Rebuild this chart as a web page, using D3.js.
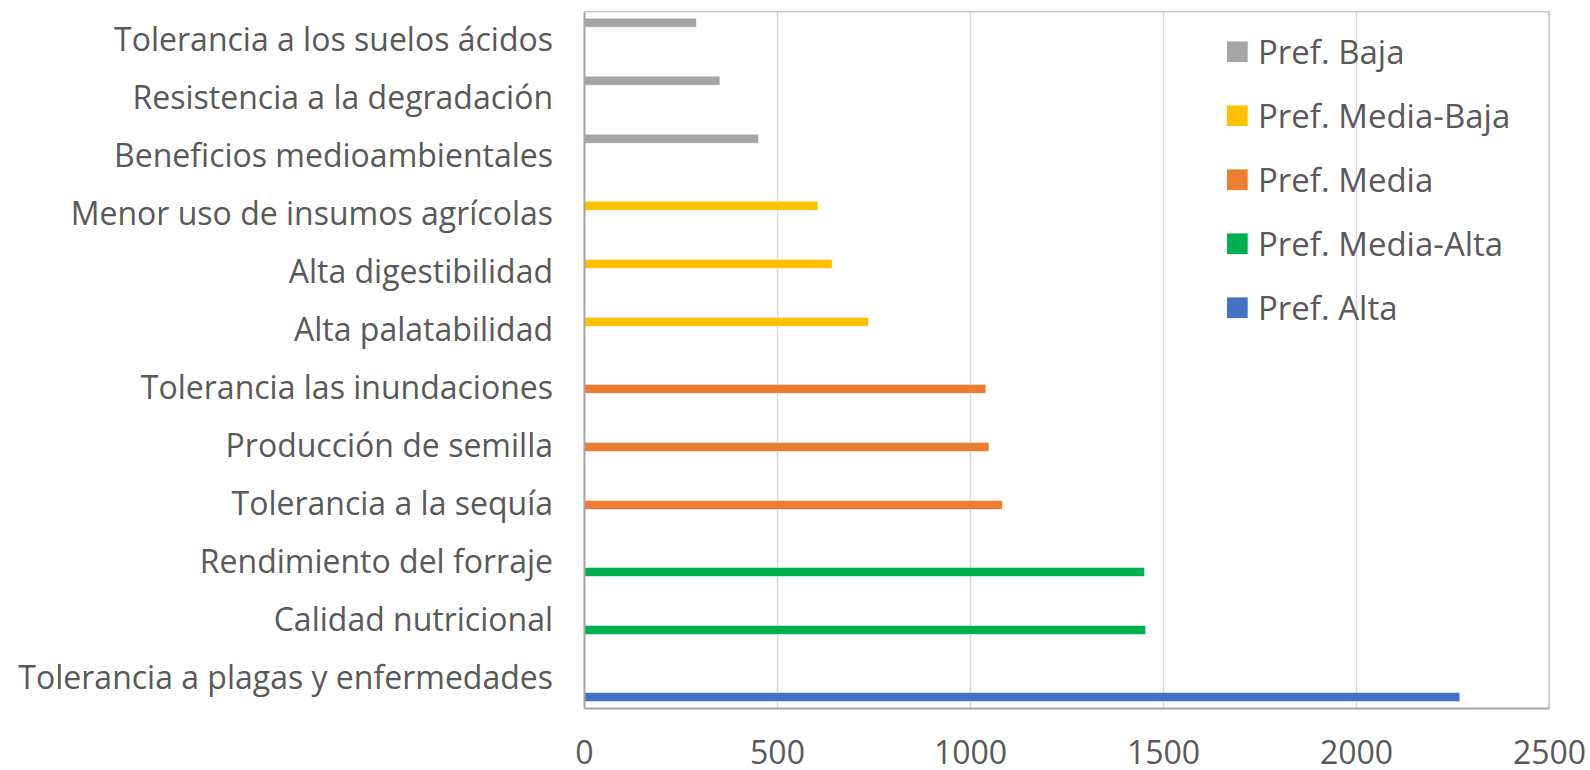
<!DOCTYPE html>
<html>
<head>
<meta charset="utf-8">
<script src="https://cdn.jsdelivr.net/npm/d3@7"></script>
<style>
  body { margin: 0; background: #fff; }
  svg text { font-family: "Open Sans", "Noto Sans", sans-serif; fill: #595959; }
</style>
</head>
<body>
<svg id="chart" width="1590" height="770"></svg>
<script>
// categories, top to bottom as in the picture
var categories = [
  "Tolerancia a los suelos ácidos",
  "Resistencia a la degradación",
  "Beneficios medioambientales",
  "Menor uso de insumos agrícolas",
  "Alta digestibilidad",
  "Alta palatabilidad",
  "Tolerancia las inundaciones",
  "Producción de semilla",
  "Tolerancia a la sequía",
  "Rendimiento del forraje",
  "Calidad nutricional",
  "Tolerancia a plagas y enfermedades"
];
var values = [291, 352, 452, 606, 643, 737, 1041, 1049, 1084, 1452, 1455, 2269];
// which series each category belongs to
var categorySeries = [
  "Pref. Baja", "Pref. Baja", "Pref. Baja",
  "Pref. Media-Baja", "Pref. Media-Baja", "Pref. Media-Baja",
  "Pref. Media", "Pref. Media", "Pref. Media",
  "Pref. Media-Alta", "Pref. Media-Alta",
  "Pref. Alta"
];
var series = ["Pref. Baja", "Pref. Media-Baja", "Pref. Media", "Pref. Media-Alta", "Pref. Alta"];
var seriesColors = ["#A5A5A5", "#FFC000", "#ED7D31", "#00B050", "#4472C4"];
var xTicks = [0, 500, 1000, 1500, 2000, 2500];

function drawChart(){
  var svg = d3.select("#chart");
  var pLeft = 584, pRight = 1549, pTop = 11.7, pBottom = 708;

  var x = d3.scaleLinear().domain([0, 2500]).range([pLeft, pRight]);
  var y0 = d3.scaleBand().domain(categories).range([pTop, pBottom]);
  var y1 = d3.scaleBand().domain(series).range([0, y0.step()]).paddingOuter(0.72);
  var color = d3.scaleOrdinal().domain(series).range(seriesColors);

  // gridlines
  svg.append("g")
    .attr("transform", "translate(0," + pBottom + ")")
    .call(d3.axisBottom(x).tickValues(xTicks).tickSize(-(pBottom - pTop)).tickFormat(""))
    .call(function(g){
      g.select(".domain").remove();
      g.selectAll(".tick line").attr("stroke", "#D9D9D9").attr("stroke-width", 1.5);
    });

  // plot border (top/right light)
  svg.append("path")
    .attr("d", "M" + pLeft + "," + pTop + "H" + pRight + "V" + pBottom)
    .attr("fill", "none").attr("stroke", "#C8C8C8").attr("stroke-width", 1.5);

  // legend
  var legend = svg.append("g").selectAll("g").data(series).enter().append("g")
    .attr("transform", function(d, i){ return "translate(1227," + (51.7 + i * 64) + ")"; });
  legend.append("rect")
    .attr("x", 0).attr("y", -10.3).attr("width", 20.7).attr("height", 20.7)
    .attr("fill", function(d){ return color(d); });
  legend.append("text")
    .attr("x", 31).attr("dy", "0.36em")
    .style("font-size", "33px")
    .text(function(d){ return d; });

  // bars
  svg.append("g").selectAll("rect")
    .data(categories).enter().append("rect")
    .attr("x", x(0))
    .attr("y", function(d, i){ return y0(d) + y1(categorySeries[i]); })
    .attr("width", function(d, i){ return x(values[i]) - x(0); })
    .attr("height", y1.bandwidth())
    .attr("fill", function(d, i){ return color(categorySeries[i]); })
    .attr("stroke", "#fff").attr("stroke-opacity", 0.6).attr("stroke-width", 0.8);

  // axes
  svg.append("g")
    .attr("transform", "translate(" + pLeft + ",0)")
    .call(d3.axisLeft(y0).tickSize(0).tickPadding(31))
    .call(function(g){
      g.select(".domain").attr("stroke", "#A6A6A6").attr("stroke-width", 2);
      g.selectAll("text").style("font-size", "32px").attr("fill", null);
    });

  svg.append("g")
    .attr("transform", "translate(0," + pBottom + ")")
    .call(d3.axisBottom(x).tickValues(xTicks).tickSize(0).tickFormat(d3.format("d")))
    .call(function(g){
      g.select(".domain").attr("stroke", "#A6A6A6").attr("stroke-width", 2);
      g.selectAll("text").attr("y", 45).attr("dy", "0.35em").style("font-size", "32px").attr("fill", null);
    });
}

drawChart();
</script>
</body>
</html>
